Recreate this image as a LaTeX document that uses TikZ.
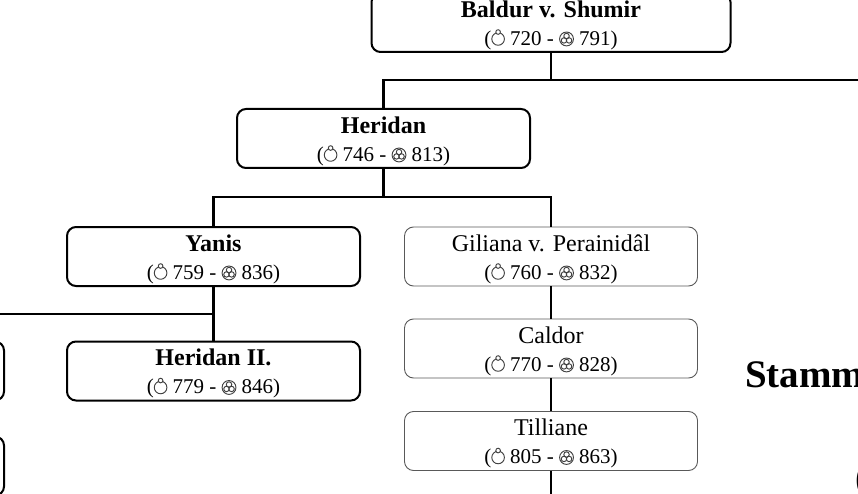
\documentclass[tikz,border=0pt]{standalone}
\usepackage{fontspec}
\setmainfont{Liberation Serif}
\newcommand{\bornsym}{\tikz[baseline=0pt,line width=0.045em,black!75]{\draw (0,0.3em) circle (0.3em); \draw[fill=white] (0,0.63em) circle (0.11em);}}
\newcommand{\deathsym}{\tikz[baseline=0pt,line width=0.045em,black!75]{\draw (0,0.3em) circle (0.33em); \foreach \a in {90,210,330} \draw (0,0.3em) ++(\a:0.14em) circle (0.13em);}}
\tikzset{
  famnode/.style={rounded corners=9pt, minimum width=293pt, minimum height=59pt, align=center, inner sep=0pt, font=\fontsize{24}{28}\selectfont},
  boldbox/.style={famnode, draw=black, line width=2pt},
  thinbox/.style={famnode, draw=black!65, line width=0.9pt},
  link/.style={line width=2.4pt}
}
\newcommand{\nm}[1]{\rule{0pt}{22pt}#1}
\newcommand{\dt}[2]{{\fontsize{21}{28}\selectfont(\bornsym{} #1 - \deathsym{} #2)}}
\begin{document}
\begin{tikzpicture}[x=1pt,y=-1pt]
\useasboundingbox (0,0) rectangle (858,494);
\node[boldbox, minimum width=359pt] (baldur) at (551,22.5) {\nm{\textbf{Baldur v. Shumir}}\\\dt{720}{791}};
\node[boldbox] (heridan) at (383.5,138.5) {\nm{\textbf{Heridan}}\\\dt{746}{813}};
\node[boldbox] (yanis) at (213.5,256.5) {\nm{\textbf{Yanis}}\\\dt{759}{836}};
\node[thinbox] (giliana) at (551,256.5) {\nm{Giliana v. Perainidâl}\\\dt{760}{832}};
\node[boldbox] (heridan2) at (213.5,371) {\nm{\textbf{Heridan II.}}\\\dt{779}{846}};
\node[boldbox] (left1) at (-142.5,371) {};
\node[boldbox] (left2) at (-142.5,466) {};
\node[thinbox] (caldor) at (551,348.5) {\nm{Caldor}\\\dt{770}{828}};
\node[thinbox] (tilliane) at (551,441) {\nm{Tilliane}\\\dt{805}{863}};
\node[anchor=base west, inner sep=0pt, font=\bfseries\fontsize{39}{40}\selectfont] (title) at (745,387) {Stamm};
\node[anchor=base west, inner sep=0pt, font=\bfseries\fontsize{39}{40}\selectfont] (sub) at (855,490) {(};
\coordinate (offR) at (880,80);
\coordinate (offB) at (551,510);
\draw[link] (baldur.south) -- (baldur.south |- offR);
\draw[link] (heridan.north) |- (offR);
\draw[link] (heridan.south) -- ++(0,28) coordinate (j2);
\draw[link] (yanis.north) |- (j2) -| (giliana.north);
\draw[link] (yanis.south) -- ++(0,27) coordinate (j3);
\draw[link] (j3) -- (heridan2.north);
\draw[link] (j3) -| (left1.north);
\draw[link] (giliana.south) -- (caldor.north);
\draw[link] (caldor.south) -- (tilliane.north);
\draw[link] (tilliane.south) -- (offB);
\end{tikzpicture}
\end{document}
